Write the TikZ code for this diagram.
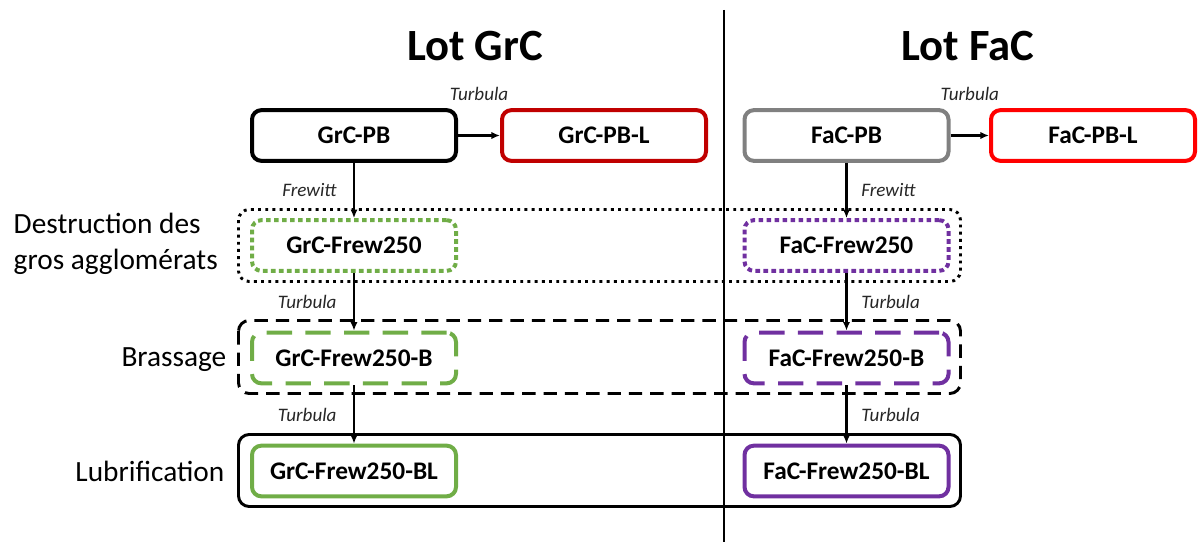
\documentclass[tikz,border=0pt]{standalone}
\usepackage{fontspec}
\setmainfont{Carlito}
\usepackage{tikz}
\usetikzlibrary{arrows.meta}

\definecolor{grgreen}{HTML}{70AD47}
\definecolor{fapurple}{HTML}{7030A0}
\definecolor{darkred}{HTML}{C00000}
\definecolor{lightred}{HTML}{FF0000}
\definecolor{pbgray}{HTML}{808080}

\tikzset{
  sample/.style={draw, rounded corners=7pt, line width=3pt, minimum width=153pt,
    minimum height=38pt, inner sep=0pt, font=\fontsize{19}{22}\selectfont\bfseries},
  proc/.style={font=\fontsize{14.3}{16}\selectfont\itshape, text=black!85},
  stage/.style={font=\fontsize{22}{27}\selectfont},
  lottitle/.style={font=\fontsize{33.5}{38}\selectfont\bfseries},
  smalldots/.style={dash pattern=on 3.5pt off 2.5pt},
  longdash/.style={dash pattern=on 19pt off 10pt},
  flow/.style={->, line width=1.6pt},
  >={Latex[length=6.5pt,width=5.5pt]}
}

\begin{document}
\begin{tikzpicture}[x=0.75pt,y=-0.75pt]

% parameters
\def\xgr{354}
\def\xfa{846.5}
\def\ya{135.5}
\def\yb{245.5}
\def\yc{358}
\def\yd{471}

\useasboundingbox (0,0) rectangle (1199,542);

% separation line
\draw[line width=1.9pt] (724,10) -- (724,542);

% titles
\node[lottitle] (titlegr) at (475,46) {Lot GrC};
\node[lottitle] (titlefa) at (968,46) {Lot FaC};

% stage frames
\draw[line width=2.2pt, dash pattern=on 2.2pt off 3.2pt, rounded corners=8pt]
  (238.5,209.5) rectangle (960.5,281.5);
\draw[line width=2.2pt, dash pattern=on 10pt off 6pt, rounded corners=8pt]
  (238.5,320.5) rectangle (960.5,393.5);
\draw[line width=2.2pt, rounded corners=8pt]
  (238.5,434.5) rectangle (960.5,506.5);

% stage labels
\node[stage, align=left, anchor=west] (destr) at (9,244) {Destruction des\\gros agglomérats};
\node[stage, anchor=east] (brass) at (231,360) {Brassage};
\node[stage, anchor=east] (lubri) at (229,471) {Lubrification};

% GrC samples
\node[sample] (grpb) at (\xgr,\ya) {GrC-PB};
\node[sample, darkred] (grpbl) at (604,\ya) {\textcolor{black}{GrC-PB-L}};
\node[sample, grgreen, smalldots] (grf) at (\xgr,\yb) {\textcolor{black}{GrC-Frew250}};
\node[sample, grgreen, longdash] (grfb) at (\xgr,\yc) {\textcolor{black}{GrC-Frew250-B}};
\node[sample, grgreen] (grfbl) at (\xgr,\yd) {\textcolor{black}{GrC-Frew250-BL}};

% FaC samples
\node[sample, pbgray] (fapb) at (\xfa,\ya) {\textcolor{black}{FaC-PB}};
\node[sample, lightred] (fapbl) at (1093,\ya) {\textcolor{black}{FaC-PB-L}};
\node[sample, fapurple, smalldots] (faf) at (\xfa,\yb) {\textcolor{black}{FaC-Frew250}};
\node[sample, fapurple, longdash] (fafb) at (\xfa,\yc) {\textcolor{black}{FaC-Frew250-B}};
\node[sample, fapurple] (fafbl) at (\xfa,\yd) {\textcolor{black}{FaC-Frew250-BL}};

% treatments GrC
\draw[flow] (grpb) -- (grpbl) node[proc, midway, above=22pt] {Turbula};
\draw[flow] (grpb) -- (grf) node[proc, midway, left=9pt] {Frewitt};
\draw[flow] (grf) -- (grfb) node[proc, midway, left=9pt] {Turbula};
\draw[flow] (grfb) -- (grfbl) node[proc, midway, left=9pt] {Turbula};

% treatments FaC
\draw[flow] (fapb) -- (fapbl) node[proc, midway, above=22pt] {Turbula};
\draw[flow] (fapb) -- (faf) node[proc, midway, right=7pt] {Frewitt};
\draw[flow] (faf) -- (fafb) node[proc, midway, right=7pt] {Turbula};
\draw[flow] (fafb) -- (fafbl) node[proc, midway, right=7pt] {Turbula};

\end{tikzpicture}
\end{document}
